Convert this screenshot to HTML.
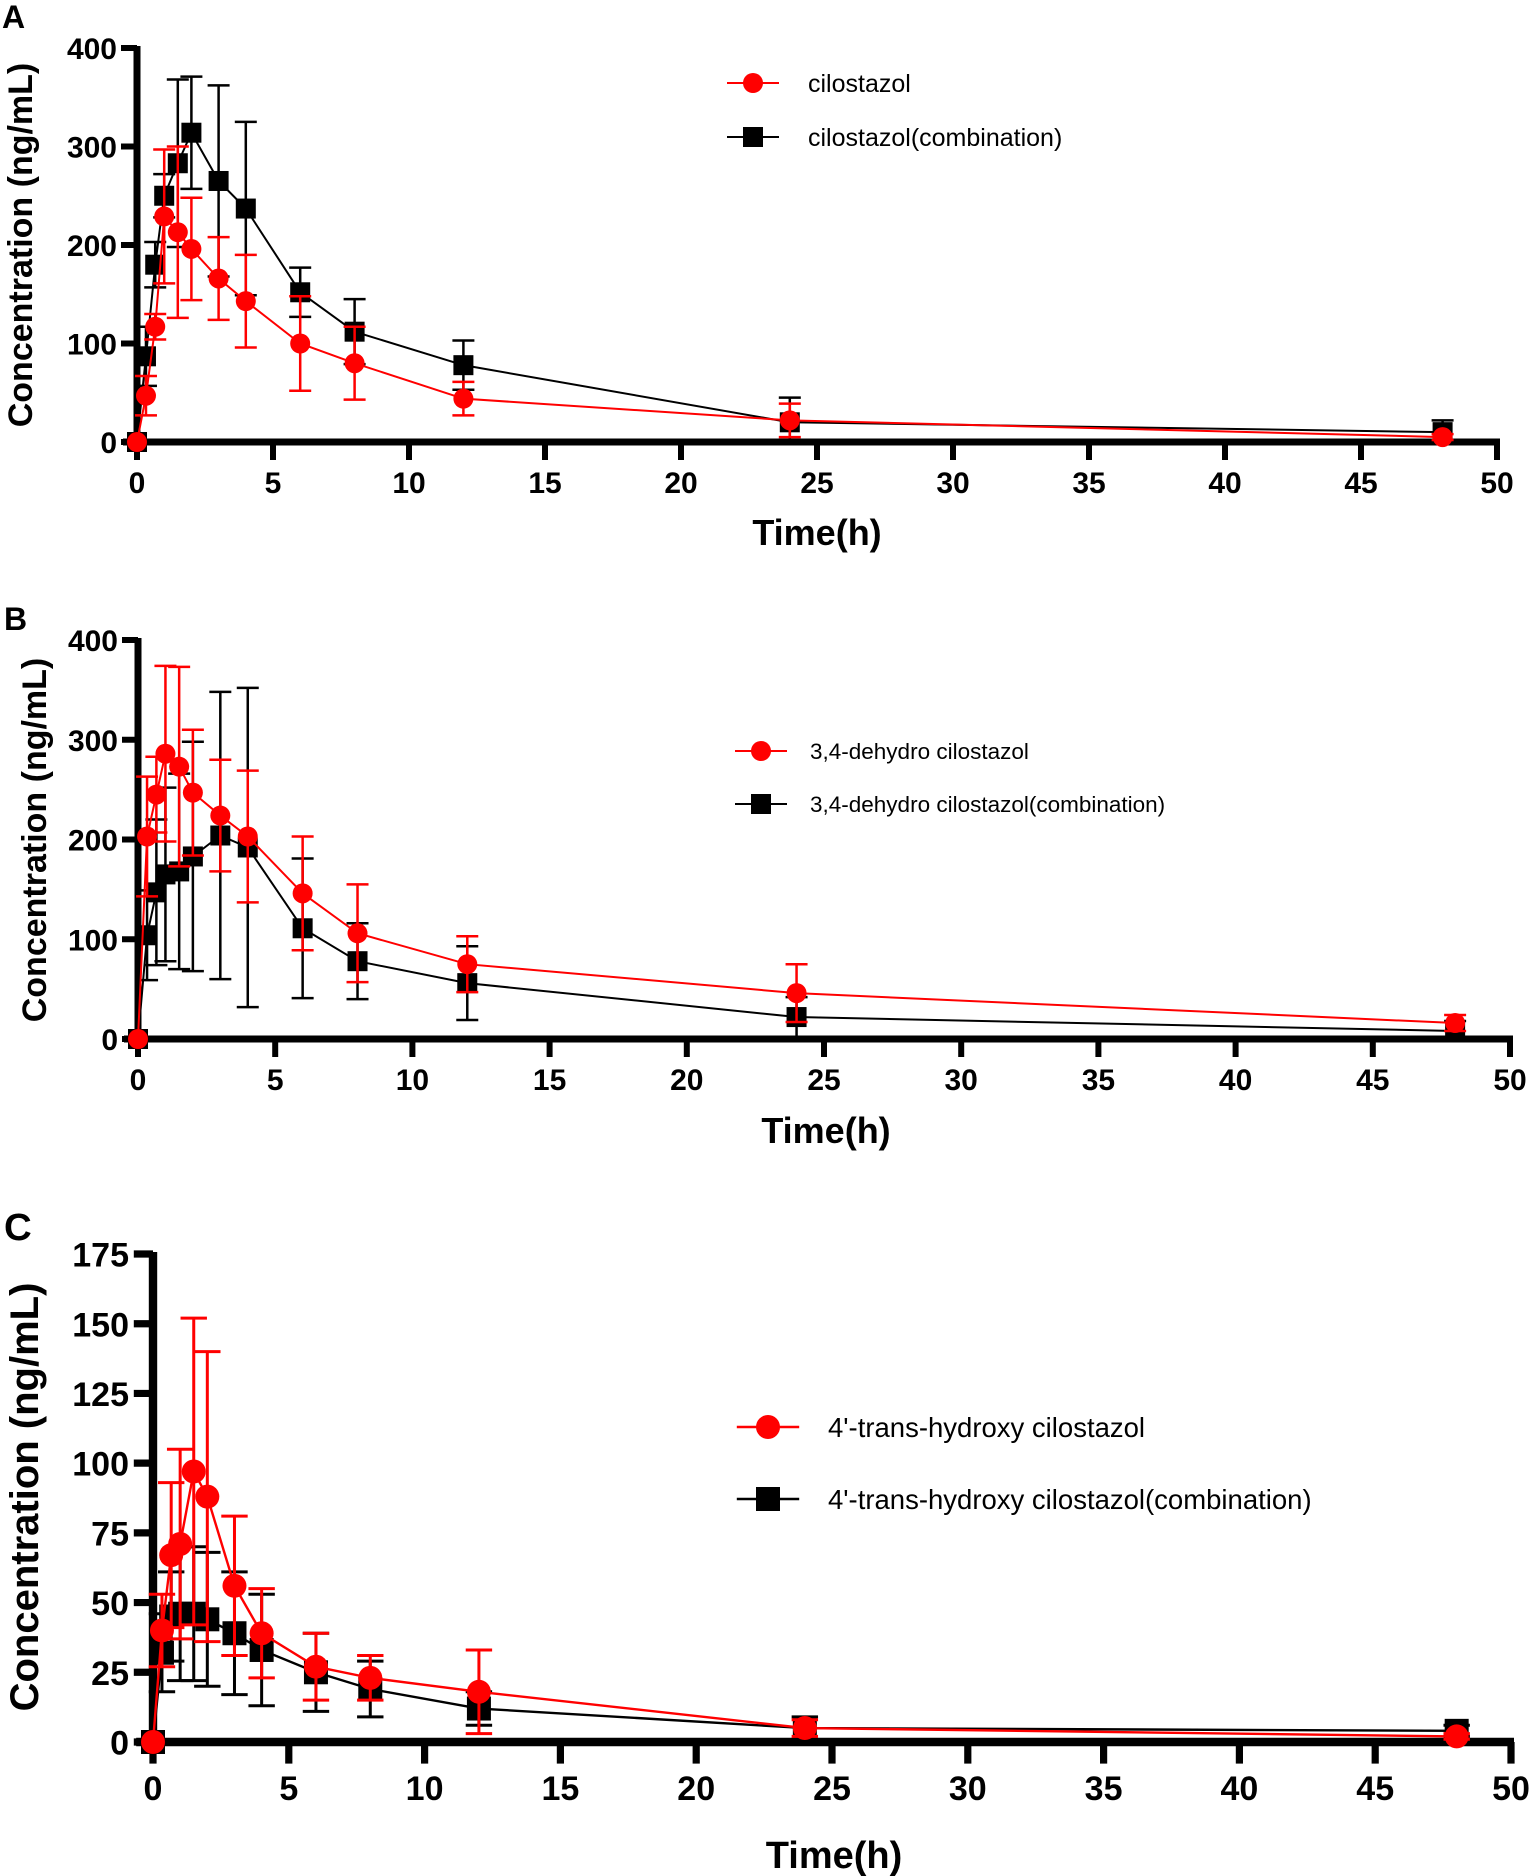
<!DOCTYPE html>
<html><head><meta charset="utf-8"><style>
body{margin:0;background:#fff}
svg{display:block}
text{font-family:"Liberation Sans",Arial,sans-serif}
</style></head>
<body>
<svg id="fig" width="1534" height="1876" xmlns="http://www.w3.org/2000/svg"></svg>
<script>
const times = [0,0.33,0.67,1,1.5,2,3,4,6,8,12,24,48];
const xTicks = [0,5,10,15,20,25,30,35,40,45,50];
// Panel A
const aRed = [0,47,117,229,213,196,166,143,100,80,44,22,5];
const aRedSd = [0,20,13,68,87,52,42,47,48,37,17,17,3];
const aBlack = [0,87,180,250,283,314,265,237,152,112,78,20,10];
const aBlackSd = [0,30,23,22,85,57,97,88,25,33,25,25,12];
const aYTicks = [0,100,200,300,400];
// Panel B
const bRed = [0,203,245,286,273,247,224,203,146,106,75,46,16];
const bRedSd = [0,60,38,88,100,63,56,66,57,49,28,29,8];
const bBlack = [0,104,147,165,168,183,204,192,111,78,56,22,8];
const bBlackSd = [0,45,73,87,98,115,144,160,70,38,37,20,10];
const bYTicks = [0,100,200,300,400];
// Panel C
const cRed = [0,40,67,71,97,88,56,39,27,23,18,5,2];
const cRedSd = [0,13,26,34,55,52,25,16,12,8,15,3,1];
const cBlack = [0,32,45,46,46,44,39,33,25,19,12,5,4];
const cBlackSd = [0,14,16,24,24,24,22,20,14,10,6,4,2];
const cYTicks = [0,25,50,75,100,125,150,175];

const NS="http://www.w3.org/2000/svg";
const svg=document.getElementById('fig');
function mk(tag,attrs,parent){const e=document.createElementNS(NS,tag);for(const k in attrs)e.setAttribute(k,attrs[k]);(parent||svg).appendChild(e);return e;}

function panel(p){
  const g=mk('g',{});
  
  
  const X=v=>p.x0+(v/50)*(p.x1-p.x0);
  const Y=v=>p.y0-(v/p.ymax)*(p.y0-p.y1);
  const s=p.s;
  const L=mk('text',{x:p.lx,y:p.ly,'font-size':32*s,'font-weight':'bold'},g);L.textContent=p.id;
  
  
  const ya=mk('line',{x1:p.x0,y1:p.y1-2,x2:p.x0,y2:p.y0+3,stroke:'#000','stroke-width':7*s},g);
  
  
  const xa=mk('line',{x1:p.x0-14*s,y1:p.y0,x2:p.x1+3,y2:p.y0,stroke:'#000','stroke-width':7*s},g);
  
  
  p.yTicks.forEach(v=>{
    mk('line',{x1:p.x0-16*s,y1:Y(v),x2:p.x0,y2:Y(v),stroke:'#000','stroke-width':6*s},g);
    const t=mk('text',{x:p.x0-20*s,y:Y(v)+p.tf*0.37,'font-size':p.tf,'font-weight':'bold','text-anchor':'end'},g);
    t.textContent=v;
    
    
  });
  xTicks.forEach(v=>{
    mk('line',{x1:X(v),y1:p.y0,x2:X(v),y2:p.y0+18*s,stroke:'#000','stroke-width':6*s},g);
    const t=mk('text',{x:X(v),y:p.y0+p.tl,'font-size':p.tf,'font-weight':'bold','text-anchor':'middle'},g);
    t.textContent=v;
    
    
  });
  const xt=mk('text',{x:p.xtx,y:p.xty,'font-size':p.xtf,'font-weight':'bold','text-anchor':'middle'},g);
  xt.textContent='Time(h)';
  
  
  const yt=mk('text',{x:0,y:0,'font-size':p.ytf,'font-weight':'bold','text-anchor':'middle',transform:`translate(${p.ytx},${p.yty}) rotate(-90)`},g);
  yt.textContent='Concentration (ng/mL)';
  
  
  const ser=[{v:p.black,sd:p.blackSd,c:'#000',sq:true,n:'combination'},{v:p.red,sd:p.redSd,c:'#ff0000',sq:false,n:'single'}];
  ser.forEach(S=>{
    const sg=mk('g',{},g);
    
    
    mk('polyline',{points:times.map((t,i)=>X(t)+','+Y(S.v[i])).join(' '),fill:'none',stroke:S.c,'stroke-width':2*s},sg);
    times.forEach((t,i)=>{
      if(!S.sd[i])return;
      const x=X(t),hi=Y(S.v[i]+S.sd[i]),lo=Y(Math.max(0,S.v[i]-S.sd[i])),w=11*s;
      const e=mk('path',{d:`M${x},${hi}V${lo}M${x-w},${hi}H${x+w}M${x-w},${lo}H${x+w}`,stroke:S.c,'stroke-width':2.5*s,fill:'none'},sg);
      
      
    });
    times.forEach((t,i)=>{
      const x=X(t),y=Y(S.v[i]);let m;
      if(S.sq){const h=p.ms;m=mk('rect',{x:x-h,y:y-h,width:2*h,height:2*h,fill:S.c},sg);}
      else m=mk('circle',{cx:x,cy:y,r:p.mr,fill:S.c},sg);
      
      
    });
  });
  const lg=mk('g',{},g);
  
  
  [[p.lgRed,'#ff0000',false,p.ly1],[p.lgBlack,'#000',true,p.ly2]].forEach(([lab,c,sq,y])=>{
    const e=mk('g',{},lg);
    
    
    mk('line',{x1:p.lgx-26*s,y1:y,x2:p.lgx+26*s,y2:y,stroke:c,'stroke-width':2*s},e);
    if(sq) mk('rect',{x:p.lgx-p.ms,y:y-p.ms,width:2*p.ms,height:2*p.ms,fill:c},e);
    else mk('circle',{cx:p.lgx,cy:y,r:p.mr,fill:c},e);
    const t=mk('text',{x:p.lgtx,y:y+p.lf*0.36,'font-size':p.lf},e);t.textContent=lab;
  });
}
panel({id:'A',s:1,x0:137,x1:1497,y0:442,y1:48,ymax:400,yTicks:aYTicks,red:aRed,redSd:aRedSd,black:aBlack,blackSd:aBlackSd,
  lx:2,ly:28,tf:30,tl:51,xtx:817,xty:545,xtf:36,ytx:32,yty:245,ytf:34,mr:10,ms:10,
  lgRed:'cilostazol',lgBlack:'cilostazol(combination)',lgx:753,ly1:83,ly2:137,lgtx:808,lf:25});
panel({id:'B',s:1,x0:138,x1:1510,y0:1039,y1:640,ymax:400,yTicks:bYTicks,red:bRed,redSd:bRedSd,black:bBlack,blackSd:bBlackSd,
  lx:4,ly:630,tf:30,tl:51,xtx:826,xty:1143,xtf:36,ytx:46,yty:840,ytf:34,mr:10,ms:10,
  lgRed:'3,4-dehydro cilostazol',lgBlack:'3,4-dehydro cilostazol(combination)',lgx:761,ly1:751,ly2:804,lgtx:810,lf:22.5});
panel({id:'C',s:1.2,x0:153,x1:1511,y0:1742,y1:1254,ymax:175,yTicks:cYTicks,red:cRed,redSd:cRedSd,black:cBlack,blackSd:cBlackSd,
  lx:4,ly:1240,tf:34,tl:58,xtx:834,xty:1868,xtf:38,ytx:38,yty:1497,ytf:40,mr:12,ms:12,
  lgRed:"4'-trans-hydroxy cilostazol",lgBlack:"4'-trans-hydroxy cilostazol(combination)",lgx:768,ly1:1427,ly2:1499,lgtx:828,lf:27.5});
</script>
</body></html>
